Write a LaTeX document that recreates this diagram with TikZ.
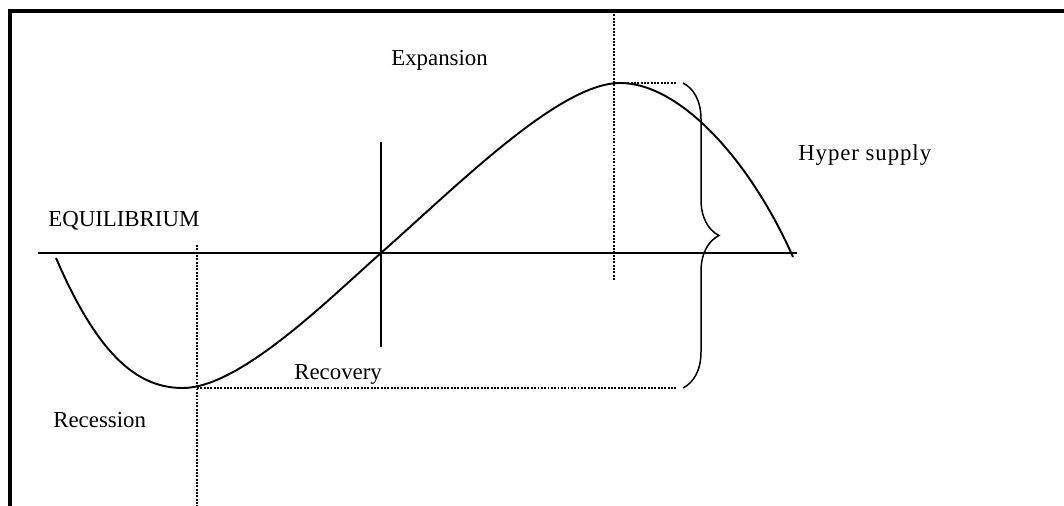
\documentclass[tikz,border=0pt]{standalone}
\usepackage{fontspec}
\setmainfont{Liberation Serif}
\usetikzlibrary{decorations.pathreplacing}

\tikzset{
  lbl/.style={anchor=base west,inner sep=0pt,font=\fontsize{13}{15}\selectfont},
  dotline/.style={line width=0.7pt,dash pattern=on 1.1pt off 0.8pt},
  wave/.style={line width=1.1pt},
}

\begin{document}
\begin{tikzpicture}[x=0.02cm,y=-0.02cm]
  \useasboundingbox (0,0) rectangle (1064,506);
  % frame
  \draw[line width=2pt] (10,506) -- (10,11) -- (1064,11);
  % key points of the cycle
  \coordinate (start) at (56,258);
  \coordinate (trough) at (183,388);
  \coordinate (cross) at (381,253);
  \coordinate (peak) at (620,83);
  \coordinate (finish) at (793,257);
  \coordinate (eqL) at (38,253);
  \coordinate (eqR) at (797,253);
  \draw[line width=0.8pt] (eqL) -- (eqR);
  \draw[line width=0.75pt] (cross |- 0,142) -- (cross |- 0,347);
  \draw[dotline] (197,245) -- (197,506);
  \draw[dotline] (614,11) -- (614,280);
  \draw[dotline] (197,388) -- (677,388);
  \draw[dotline] (614,83) -- (677,83);
  \draw[wave] (start) .. controls (100,360) and (140,388) .. (trough)
    .. controls (240,388) and (330,298) .. (cross)
    .. controls (460,183) and (560,83) .. (peak)
    .. controls (680,83) and (750,160) .. (finish);
  \draw[line width=0.85pt,decorate,decoration={brace,amplitude=0.72cm}] (683,83) -- (683,388);
  \node[lbl] (expansion) at (391,66) {Expansion};
  \node[lbl] (hyper) at (798,161) {\addfontfeatures{LetterSpace=4}Hyper supply};
  \node[lbl] (equil) at (48,227) {EQUILIBRIUM};
  \node[lbl] (recovery) at (294,379) {Recovery};
  \node[lbl] (recession) at (53,427) {Recession};
\end{tikzpicture}
\end{document}
